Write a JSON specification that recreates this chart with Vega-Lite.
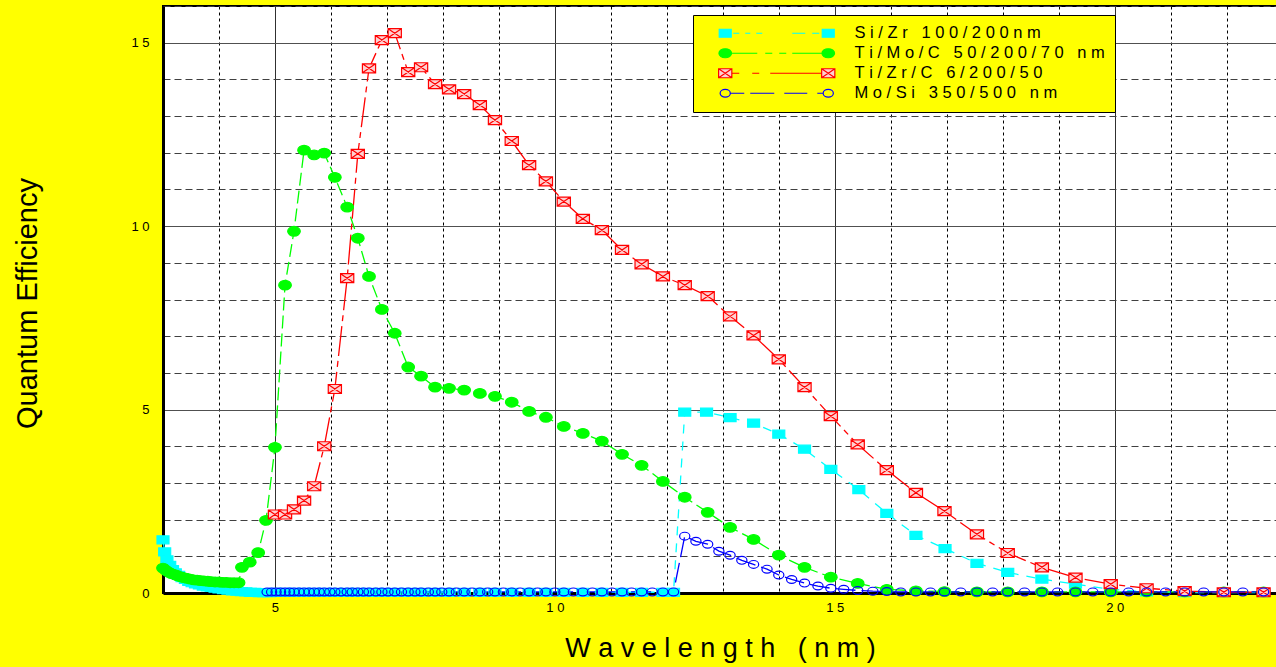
{
  "$schema": "https://vega.github.io/schema/vega-lite/v6.json",
  "autosize": {"type": "none"},
  "padding": {"left": 163, "top": 6, "right": 0, "bottom": 74},
  "width": 1114,
  "height": 587,
  "background": "#FFFF00",
  "config": {
    "view": {"stroke": "#000000", "strokeWidth": 2, "fill": "#FFFFFF"},
    "font": "Liberation Sans"
  },
  "data": {"values": [
    {"series":"Si/Zr 100/200nm","wavelength":3.00,"qe":1.45},
    {"series":"Si/Zr 100/200nm","wavelength":3.03,"qe":1.12},
    {"series":"Si/Zr 100/200nm","wavelength":3.07,"qe":0.90},
    {"series":"Si/Zr 100/200nm","wavelength":3.12,"qe":0.75},
    {"series":"Si/Zr 100/200nm","wavelength":3.17,"qe":0.64},
    {"series":"Si/Zr 100/200nm","wavelength":3.22,"qe":0.55},
    {"series":"Si/Zr 100/200nm","wavelength":3.28,"qe":0.48},
    {"series":"Si/Zr 100/200nm","wavelength":3.34,"qe":0.42},
    {"series":"Si/Zr 100/200nm","wavelength":3.40,"qe":0.37},
    {"series":"Si/Zr 100/200nm","wavelength":3.46,"qe":0.32},
    {"series":"Si/Zr 100/200nm","wavelength":3.52,"qe":0.28},
    {"series":"Si/Zr 100/200nm","wavelength":3.58,"qe":0.25},
    {"series":"Si/Zr 100/200nm","wavelength":3.65,"qe":0.22},
    {"series":"Si/Zr 100/200nm","wavelength":3.72,"qe":0.19},
    {"series":"Si/Zr 100/200nm","wavelength":3.79,"qe":0.17},
    {"series":"Si/Zr 100/200nm","wavelength":3.86,"qe":0.15},
    {"series":"Si/Zr 100/200nm","wavelength":3.93,"qe":0.13},
    {"series":"Si/Zr 100/200nm","wavelength":4.00,"qe":0.11},
    {"series":"Si/Zr 100/200nm","wavelength":4.08,"qe":0.09},
    {"series":"Si/Zr 100/200nm","wavelength":4.16,"qe":0.08},
    {"series":"Si/Zr 100/200nm","wavelength":4.24,"qe":0.06},
    {"series":"Si/Zr 100/200nm","wavelength":4.32,"qe":0.05},
    {"series":"Si/Zr 100/200nm","wavelength":4.40,"qe":0.04},
    {"series":"Si/Zr 100/200nm","wavelength":4.48,"qe":0.03},
    {"series":"Si/Zr 100/200nm","wavelength":4.56,"qe":0.02},
    {"series":"Si/Zr 100/200nm","wavelength":4.64,"qe":0.02},
    {"series":"Si/Zr 100/200nm","wavelength":4.72,"qe":0.01},
    {"series":"Si/Zr 100/200nm","wavelength":4.80,"qe":0.01},
    {"series":"Si/Zr 100/200nm","wavelength":4.90,"qe":0.01},
    {"series":"Si/Zr 100/200nm","wavelength":5.00,"qe":0.02},
    {"series":"Si/Zr 100/200nm","wavelength":5.18,"qe":0.02},
    {"series":"Si/Zr 100/200nm","wavelength":5.34,"qe":0.02},
    {"series":"Si/Zr 100/200nm","wavelength":5.52,"qe":0.02},
    {"series":"Si/Zr 100/200nm","wavelength":5.70,"qe":0.02},
    {"series":"Si/Zr 100/200nm","wavelength":5.88,"qe":0.02},
    {"series":"Si/Zr 100/200nm","wavelength":6.07,"qe":0.02},
    {"series":"Si/Zr 100/200nm","wavelength":6.29,"qe":0.02},
    {"series":"Si/Zr 100/200nm","wavelength":6.48,"qe":0.02},
    {"series":"Si/Zr 100/200nm","wavelength":6.68,"qe":0.02},
    {"series":"Si/Zr 100/200nm","wavelength":6.91,"qe":0.02},
    {"series":"Si/Zr 100/200nm","wavelength":7.14,"qe":0.02},
    {"series":"Si/Zr 100/200nm","wavelength":7.38,"qe":0.02},
    {"series":"Si/Zr 100/200nm","wavelength":7.61,"qe":0.02},
    {"series":"Si/Zr 100/200nm","wavelength":7.86,"qe":0.02},
    {"series":"Si/Zr 100/200nm","wavelength":8.11,"qe":0.02},
    {"series":"Si/Zr 100/200nm","wavelength":8.38,"qe":0.02},
    {"series":"Si/Zr 100/200nm","wavelength":8.66,"qe":0.02},
    {"series":"Si/Zr 100/200nm","wavelength":8.93,"qe":0.02},
    {"series":"Si/Zr 100/200nm","wavelength":9.23,"qe":0.02},
    {"series":"Si/Zr 100/200nm","wavelength":9.54,"qe":0.02},
    {"series":"Si/Zr 100/200nm","wavelength":9.84,"qe":0.02},
    {"series":"Si/Zr 100/200nm","wavelength":10.16,"qe":0.02},
    {"series":"Si/Zr 100/200nm","wavelength":10.50,"qe":0.02},
    {"series":"Si/Zr 100/200nm","wavelength":10.84,"qe":0.02},
    {"series":"Si/Zr 100/200nm","wavelength":11.20,"qe":0.02},
    {"series":"Si/Zr 100/200nm","wavelength":11.55,"qe":0.02},
    {"series":"Si/Zr 100/200nm","wavelength":11.93,"qe":0.02},
    {"series":"Si/Zr 100/200nm","wavelength":12.12,"qe":0.02},
    {"series":"Si/Zr 100/200nm","wavelength":12.32,"qe":4.93},
    {"series":"Si/Zr 100/200nm","wavelength":12.71,"qe":4.93},
    {"series":"Si/Zr 100/200nm","wavelength":13.13,"qe":4.78},
    {"series":"Si/Zr 100/200nm","wavelength":13.55,"qe":4.63},
    {"series":"Si/Zr 100/200nm","wavelength":14.00,"qe":4.33},
    {"series":"Si/Zr 100/200nm","wavelength":14.46,"qe":3.92},
    {"series":"Si/Zr 100/200nm","wavelength":14.93,"qe":3.37},
    {"series":"Si/Zr 100/200nm","wavelength":15.43,"qe":2.82},
    {"series":"Si/Zr 100/200nm","wavelength":15.93,"qe":2.17},
    {"series":"Si/Zr 100/200nm","wavelength":16.45,"qe":1.57},
    {"series":"Si/Zr 100/200nm","wavelength":16.97,"qe":1.21},
    {"series":"Si/Zr 100/200nm","wavelength":17.54,"qe":0.81},
    {"series":"Si/Zr 100/200nm","wavelength":18.09,"qe":0.56},
    {"series":"Si/Zr 100/200nm","wavelength":18.70,"qe":0.38},
    {"series":"Si/Zr 100/200nm","wavelength":19.30,"qe":0.24},
    {"series":"Si/Zr 100/200nm","wavelength":19.93,"qe":0.10},
    {"series":"Si/Zr 100/200nm","wavelength":20.57,"qe":0.03},
    {"series":"Si/Zr 100/200nm","wavelength":21.25,"qe":0.01},
    {"series":"Si/Zr 100/200nm","wavelength":21.95,"qe":0.01},
    {"series":"Si/Zr 100/200nm","wavelength":22.66,"qe":0.01},

    {"series":"Ti/Mo/C 50/200/70 nm","wavelength":3.00,"qe":0.68},
    {"series":"Ti/Mo/C 50/200/70 nm","wavelength":3.05,"qe":0.62},
    {"series":"Ti/Mo/C 50/200/70 nm","wavelength":3.10,"qe":0.57},
    {"series":"Ti/Mo/C 50/200/70 nm","wavelength":3.15,"qe":0.53},
    {"series":"Ti/Mo/C 50/200/70 nm","wavelength":3.21,"qe":0.50},
    {"series":"Ti/Mo/C 50/200/70 nm","wavelength":3.26,"qe":0.47},
    {"series":"Ti/Mo/C 50/200/70 nm","wavelength":3.32,"qe":0.44},
    {"series":"Ti/Mo/C 50/200/70 nm","wavelength":3.37,"qe":0.42},
    {"series":"Ti/Mo/C 50/200/70 nm","wavelength":3.43,"qe":0.40},
    {"series":"Ti/Mo/C 50/200/70 nm","wavelength":3.49,"qe":0.38},
    {"series":"Ti/Mo/C 50/200/70 nm","wavelength":3.55,"qe":0.36},
    {"series":"Ti/Mo/C 50/200/70 nm","wavelength":3.61,"qe":0.35},
    {"series":"Ti/Mo/C 50/200/70 nm","wavelength":3.67,"qe":0.34},
    {"series":"Ti/Mo/C 50/200/70 nm","wavelength":3.73,"qe":0.33},
    {"series":"Ti/Mo/C 50/200/70 nm","wavelength":3.80,"qe":0.32},
    {"series":"Ti/Mo/C 50/200/70 nm","wavelength":3.86,"qe":0.31},
    {"series":"Ti/Mo/C 50/200/70 nm","wavelength":3.93,"qe":0.30},
    {"series":"Ti/Mo/C 50/200/70 nm","wavelength":4.00,"qe":0.30},
    {"series":"Ti/Mo/C 50/200/70 nm","wavelength":4.06,"qe":0.29},
    {"series":"Ti/Mo/C 50/200/70 nm","wavelength":4.13,"qe":0.29},
    {"series":"Ti/Mo/C 50/200/70 nm","wavelength":4.20,"qe":0.28},
    {"series":"Ti/Mo/C 50/200/70 nm","wavelength":4.27,"qe":0.28},
    {"series":"Ti/Mo/C 50/200/70 nm","wavelength":4.35,"qe":0.28},
    {"series":"Ti/Mo/C 50/200/70 nm","wavelength":4.41,"qe":0.70},
    {"series":"Ti/Mo/C 50/200/70 nm","wavelength":4.55,"qe":0.84},
    {"series":"Ti/Mo/C 50/200/70 nm","wavelength":4.70,"qe":1.10},
    {"series":"Ti/Mo/C 50/200/70 nm","wavelength":4.84,"qe":1.98},
    {"series":"Ti/Mo/C 50/200/70 nm","wavelength":5.00,"qe":3.97},
    {"series":"Ti/Mo/C 50/200/70 nm","wavelength":5.18,"qe":8.39},
    {"series":"Ti/Mo/C 50/200/70 nm","wavelength":5.34,"qe":9.86},
    {"series":"Ti/Mo/C 50/200/70 nm","wavelength":5.52,"qe":12.07},
    {"series":"Ti/Mo/C 50/200/70 nm","wavelength":5.70,"qe":11.94},
    {"series":"Ti/Mo/C 50/200/70 nm","wavelength":5.88,"qe":11.99},
    {"series":"Ti/Mo/C 50/200/70 nm","wavelength":6.07,"qe":11.33},
    {"series":"Ti/Mo/C 50/200/70 nm","wavelength":6.29,"qe":10.52},
    {"series":"Ti/Mo/C 50/200/70 nm","wavelength":6.48,"qe":9.67},
    {"series":"Ti/Mo/C 50/200/70 nm","wavelength":6.68,"qe":8.63},
    {"series":"Ti/Mo/C 50/200/70 nm","wavelength":6.91,"qe":7.73},
    {"series":"Ti/Mo/C 50/200/70 nm","wavelength":7.14,"qe":7.08},
    {"series":"Ti/Mo/C 50/200/70 nm","wavelength":7.38,"qe":6.16},
    {"series":"Ti/Mo/C 50/200/70 nm","wavelength":7.61,"qe":5.91},
    {"series":"Ti/Mo/C 50/200/70 nm","wavelength":7.86,"qe":5.61},
    {"series":"Ti/Mo/C 50/200/70 nm","wavelength":8.11,"qe":5.58},
    {"series":"Ti/Mo/C 50/200/70 nm","wavelength":8.38,"qe":5.53},
    {"series":"Ti/Mo/C 50/200/70 nm","wavelength":8.66,"qe":5.44},
    {"series":"Ti/Mo/C 50/200/70 nm","wavelength":8.93,"qe":5.36},
    {"series":"Ti/Mo/C 50/200/70 nm","wavelength":9.23,"qe":5.20},
    {"series":"Ti/Mo/C 50/200/70 nm","wavelength":9.54,"qe":4.95},
    {"series":"Ti/Mo/C 50/200/70 nm","wavelength":9.84,"qe":4.79},
    {"series":"Ti/Mo/C 50/200/70 nm","wavelength":10.16,"qe":4.54},
    {"series":"Ti/Mo/C 50/200/70 nm","wavelength":10.50,"qe":4.35},
    {"series":"Ti/Mo/C 50/200/70 nm","wavelength":10.84,"qe":4.14},
    {"series":"Ti/Mo/C 50/200/70 nm","wavelength":11.20,"qe":3.78},
    {"series":"Ti/Mo/C 50/200/70 nm","wavelength":11.55,"qe":3.48},
    {"series":"Ti/Mo/C 50/200/70 nm","wavelength":11.93,"qe":3.04},
    {"series":"Ti/Mo/C 50/200/70 nm","wavelength":12.32,"qe":2.61},
    {"series":"Ti/Mo/C 50/200/70 nm","wavelength":12.73,"qe":2.20},
    {"series":"Ti/Mo/C 50/200/70 nm","wavelength":13.13,"qe":1.79},
    {"series":"Ti/Mo/C 50/200/70 nm","wavelength":13.55,"qe":1.46},
    {"series":"Ti/Mo/C 50/200/70 nm","wavelength":14.00,"qe":1.03},
    {"series":"Ti/Mo/C 50/200/70 nm","wavelength":14.46,"qe":0.70},
    {"series":"Ti/Mo/C 50/200/70 nm","wavelength":14.93,"qe":0.43},
    {"series":"Ti/Mo/C 50/200/70 nm","wavelength":15.41,"qe":0.26},
    {"series":"Ti/Mo/C 50/200/70 nm","wavelength":15.93,"qe":0.10},
    {"series":"Ti/Mo/C 50/200/70 nm","wavelength":16.45,"qe":0.06},
    {"series":"Ti/Mo/C 50/200/70 nm","wavelength":16.96,"qe":0.04},
    {"series":"Ti/Mo/C 50/200/70 nm","wavelength":17.54,"qe":0.03},
    {"series":"Ti/Mo/C 50/200/70 nm","wavelength":18.09,"qe":0.03},
    {"series":"Ti/Mo/C 50/200/70 nm","wavelength":18.70,"qe":0.03},
    {"series":"Ti/Mo/C 50/200/70 nm","wavelength":19.30,"qe":0.03},
    {"series":"Ti/Mo/C 50/200/70 nm","wavelength":19.93,"qe":0.03},
    {"series":"Ti/Mo/C 50/200/70 nm","wavelength":20.57,"qe":0.03},
    {"series":"Ti/Mo/C 50/200/70 nm","wavelength":21.25,"qe":0.03},
    {"series":"Ti/Mo/C 50/200/70 nm","wavelength":21.95,"qe":0.03},
    {"series":"Ti/Mo/C 50/200/70 nm","wavelength":22.66,"qe":0.03},

    {"series":"Ti/Zr/C 6/200/50","wavelength":5.00,"qe":2.14},
    {"series":"Ti/Zr/C 6/200/50","wavelength":5.18,"qe":2.14},
    {"series":"Ti/Zr/C 6/200/50","wavelength":5.34,"qe":2.28},
    {"series":"Ti/Zr/C 6/200/50","wavelength":5.52,"qe":2.52},
    {"series":"Ti/Zr/C 6/200/50","wavelength":5.70,"qe":2.91},
    {"series":"Ti/Zr/C 6/200/50","wavelength":5.88,"qe":4.00},
    {"series":"Ti/Zr/C 6/200/50","wavelength":6.07,"qe":5.56},
    {"series":"Ti/Zr/C 6/200/50","wavelength":6.29,"qe":8.58},
    {"series":"Ti/Zr/C 6/200/50","wavelength":6.48,"qe":11.97},
    {"series":"Ti/Zr/C 6/200/50","wavelength":6.68,"qe":14.30},
    {"series":"Ti/Zr/C 6/200/50","wavelength":6.91,"qe":15.07},
    {"series":"Ti/Zr/C 6/200/50","wavelength":7.14,"qe":15.26},
    {"series":"Ti/Zr/C 6/200/50","wavelength":7.38,"qe":14.20},
    {"series":"Ti/Zr/C 6/200/50","wavelength":7.61,"qe":14.33},
    {"series":"Ti/Zr/C 6/200/50","wavelength":7.86,"qe":13.87},
    {"series":"Ti/Zr/C 6/200/50","wavelength":8.11,"qe":13.73},
    {"series":"Ti/Zr/C 6/200/50","wavelength":8.38,"qe":13.60},
    {"series":"Ti/Zr/C 6/200/50","wavelength":8.66,"qe":13.30},
    {"series":"Ti/Zr/C 6/200/50","wavelength":8.93,"qe":12.89},
    {"series":"Ti/Zr/C 6/200/50","wavelength":9.23,"qe":12.32},
    {"series":"Ti/Zr/C 6/200/50","wavelength":9.54,"qe":11.66},
    {"series":"Ti/Zr/C 6/200/50","wavelength":9.84,"qe":11.22},
    {"series":"Ti/Zr/C 6/200/50","wavelength":10.16,"qe":10.67},
    {"series":"Ti/Zr/C 6/200/50","wavelength":10.50,"qe":10.20},
    {"series":"Ti/Zr/C 6/200/50","wavelength":10.84,"qe":9.89},
    {"series":"Ti/Zr/C 6/200/50","wavelength":11.20,"qe":9.35},
    {"series":"Ti/Zr/C 6/200/50","wavelength":11.55,"qe":8.96},
    {"series":"Ti/Zr/C 6/200/50","wavelength":11.93,"qe":8.63},
    {"series":"Ti/Zr/C 6/200/50","wavelength":12.32,"qe":8.39},
    {"series":"Ti/Zr/C 6/200/50","wavelength":12.73,"qe":8.09},
    {"series":"Ti/Zr/C 6/200/50","wavelength":13.13,"qe":7.54},
    {"series":"Ti/Zr/C 6/200/50","wavelength":13.55,"qe":7.02},
    {"series":"Ti/Zr/C 6/200/50","wavelength":14.00,"qe":6.37},
    {"series":"Ti/Zr/C 6/200/50","wavelength":14.46,"qe":5.61},
    {"series":"Ti/Zr/C 6/200/50","wavelength":14.93,"qe":4.82},
    {"series":"Ti/Zr/C 6/200/50","wavelength":15.41,"qe":4.05},
    {"series":"Ti/Zr/C 6/200/50","wavelength":15.93,"qe":3.35},
    {"series":"Ti/Zr/C 6/200/50","wavelength":16.45,"qe":2.73},
    {"series":"Ti/Zr/C 6/200/50","wavelength":16.96,"qe":2.23},
    {"series":"Ti/Zr/C 6/200/50","wavelength":17.54,"qe":1.60},
    {"series":"Ti/Zr/C 6/200/50","wavelength":18.09,"qe":1.09},
    {"series":"Ti/Zr/C 6/200/50","wavelength":18.70,"qe":0.70},
    {"series":"Ti/Zr/C 6/200/50","wavelength":19.30,"qe":0.42},
    {"series":"Ti/Zr/C 6/200/50","wavelength":19.93,"qe":0.24},
    {"series":"Ti/Zr/C 6/200/50","wavelength":20.57,"qe":0.13},
    {"series":"Ti/Zr/C 6/200/50","wavelength":21.25,"qe":0.05},
    {"series":"Ti/Zr/C 6/200/50","wavelength":21.95,"qe":0.02},
    {"series":"Ti/Zr/C 6/200/50","wavelength":22.66,"qe":0.02},

    {"series":"Mo/Si 350/500 nm","wavelength":4.86,"qe":0.03},
    {"series":"Mo/Si 350/500 nm","wavelength":4.94,"qe":0.03},
    {"series":"Mo/Si 350/500 nm","wavelength":5.02,"qe":0.03},
    {"series":"Mo/Si 350/500 nm","wavelength":5.10,"qe":0.03},
    {"series":"Mo/Si 350/500 nm","wavelength":5.18,"qe":0.03},
    {"series":"Mo/Si 350/500 nm","wavelength":5.26,"qe":0.03},
    {"series":"Mo/Si 350/500 nm","wavelength":5.34,"qe":0.03},
    {"series":"Mo/Si 350/500 nm","wavelength":5.43,"qe":0.03},
    {"series":"Mo/Si 350/500 nm","wavelength":5.52,"qe":0.03},
    {"series":"Mo/Si 350/500 nm","wavelength":5.61,"qe":0.03},
    {"series":"Mo/Si 350/500 nm","wavelength":5.70,"qe":0.03},
    {"series":"Mo/Si 350/500 nm","wavelength":5.79,"qe":0.03},
    {"series":"Mo/Si 350/500 nm","wavelength":5.88,"qe":0.03},
    {"series":"Mo/Si 350/500 nm","wavelength":5.98,"qe":0.03},
    {"series":"Mo/Si 350/500 nm","wavelength":6.07,"qe":0.03},
    {"series":"Mo/Si 350/500 nm","wavelength":6.18,"qe":0.03},
    {"series":"Mo/Si 350/500 nm","wavelength":6.29,"qe":0.03},
    {"series":"Mo/Si 350/500 nm","wavelength":6.38,"qe":0.03},
    {"series":"Mo/Si 350/500 nm","wavelength":6.48,"qe":0.03},
    {"series":"Mo/Si 350/500 nm","wavelength":6.58,"qe":0.03},
    {"series":"Mo/Si 350/500 nm","wavelength":6.68,"qe":0.03},
    {"series":"Mo/Si 350/500 nm","wavelength":6.80,"qe":0.03},
    {"series":"Mo/Si 350/500 nm","wavelength":6.91,"qe":0.03},
    {"series":"Mo/Si 350/500 nm","wavelength":7.02,"qe":0.03},
    {"series":"Mo/Si 350/500 nm","wavelength":7.14,"qe":0.03},
    {"series":"Mo/Si 350/500 nm","wavelength":7.26,"qe":0.03},
    {"series":"Mo/Si 350/500 nm","wavelength":7.38,"qe":0.03},
    {"series":"Mo/Si 350/500 nm","wavelength":7.50,"qe":0.03},
    {"series":"Mo/Si 350/500 nm","wavelength":7.61,"qe":0.03},
    {"series":"Mo/Si 350/500 nm","wavelength":7.74,"qe":0.03},
    {"series":"Mo/Si 350/500 nm","wavelength":7.86,"qe":0.03},
    {"series":"Mo/Si 350/500 nm","wavelength":7.98,"qe":0.03},
    {"series":"Mo/Si 350/500 nm","wavelength":8.11,"qe":0.03},
    {"series":"Mo/Si 350/500 nm","wavelength":8.24,"qe":0.03},
    {"series":"Mo/Si 350/500 nm","wavelength":8.38,"qe":0.03},
    {"series":"Mo/Si 350/500 nm","wavelength":8.52,"qe":0.03},
    {"series":"Mo/Si 350/500 nm","wavelength":8.66,"qe":0.03},
    {"series":"Mo/Si 350/500 nm","wavelength":8.80,"qe":0.03},
    {"series":"Mo/Si 350/500 nm","wavelength":8.93,"qe":0.03},
    {"series":"Mo/Si 350/500 nm","wavelength":9.08,"qe":0.03},
    {"series":"Mo/Si 350/500 nm","wavelength":9.23,"qe":0.03},
    {"series":"Mo/Si 350/500 nm","wavelength":9.38,"qe":0.03},
    {"series":"Mo/Si 350/500 nm","wavelength":9.54,"qe":0.03},
    {"series":"Mo/Si 350/500 nm","wavelength":9.69,"qe":0.03},
    {"series":"Mo/Si 350/500 nm","wavelength":9.84,"qe":0.03},
    {"series":"Mo/Si 350/500 nm","wavelength":10.00,"qe":0.03},
    {"series":"Mo/Si 350/500 nm","wavelength":10.16,"qe":0.03},
    {"series":"Mo/Si 350/500 nm","wavelength":10.33,"qe":0.03},
    {"series":"Mo/Si 350/500 nm","wavelength":10.50,"qe":0.03},
    {"series":"Mo/Si 350/500 nm","wavelength":10.67,"qe":0.03},
    {"series":"Mo/Si 350/500 nm","wavelength":10.84,"qe":0.03},
    {"series":"Mo/Si 350/500 nm","wavelength":11.02,"qe":0.03},
    {"series":"Mo/Si 350/500 nm","wavelength":11.20,"qe":0.03},
    {"series":"Mo/Si 350/500 nm","wavelength":11.37,"qe":0.03},
    {"series":"Mo/Si 350/500 nm","wavelength":11.55,"qe":0.03},
    {"series":"Mo/Si 350/500 nm","wavelength":11.74,"qe":0.03},
    {"series":"Mo/Si 350/500 nm","wavelength":11.93,"qe":0.03},
    {"series":"Mo/Si 350/500 nm","wavelength":12.12,"qe":0.03},
    {"series":"Mo/Si 350/500 nm","wavelength":12.32,"qe":1.55},
    {"series":"Mo/Si 350/500 nm","wavelength":12.52,"qe":1.41},
    {"series":"Mo/Si 350/500 nm","wavelength":12.73,"qe":1.33},
    {"series":"Mo/Si 350/500 nm","wavelength":12.93,"qe":1.14},
    {"series":"Mo/Si 350/500 nm","wavelength":13.13,"qe":1.03},
    {"series":"Mo/Si 350/500 nm","wavelength":13.34,"qe":0.89},
    {"series":"Mo/Si 350/500 nm","wavelength":13.55,"qe":0.78},
    {"series":"Mo/Si 350/500 nm","wavelength":13.79,"qe":0.65},
    {"series":"Mo/Si 350/500 nm","wavelength":14.00,"qe":0.49},
    {"series":"Mo/Si 350/500 nm","wavelength":14.23,"qe":0.37},
    {"series":"Mo/Si 350/500 nm","wavelength":14.46,"qe":0.27},
    {"series":"Mo/Si 350/500 nm","wavelength":14.70,"qe":0.19},
    {"series":"Mo/Si 350/500 nm","wavelength":14.93,"qe":0.13},
    {"series":"Mo/Si 350/500 nm","wavelength":15.16,"qe":0.10},
    {"series":"Mo/Si 350/500 nm","wavelength":15.41,"qe":0.07},
    {"series":"Mo/Si 350/500 nm","wavelength":15.68,"qe":0.05},
    {"series":"Mo/Si 350/500 nm","wavelength":15.93,"qe":0.04},
    {"series":"Mo/Si 350/500 nm","wavelength":16.18,"qe":0.03},
    {"series":"Mo/Si 350/500 nm","wavelength":16.45,"qe":0.03},
    {"series":"Mo/Si 350/500 nm","wavelength":16.71,"qe":0.03},
    {"series":"Mo/Si 350/500 nm","wavelength":16.96,"qe":0.03},
    {"series":"Mo/Si 350/500 nm","wavelength":17.25,"qe":0.03},
    {"series":"Mo/Si 350/500 nm","wavelength":17.54,"qe":0.03},
    {"series":"Mo/Si 350/500 nm","wavelength":17.82,"qe":0.03},
    {"series":"Mo/Si 350/500 nm","wavelength":18.09,"qe":0.03},
    {"series":"Mo/Si 350/500 nm","wavelength":18.39,"qe":0.03},
    {"series":"Mo/Si 350/500 nm","wavelength":18.70,"qe":0.03},
    {"series":"Mo/Si 350/500 nm","wavelength":18.98,"qe":0.03},
    {"series":"Mo/Si 350/500 nm","wavelength":19.30,"qe":0.03},
    {"series":"Mo/Si 350/500 nm","wavelength":19.61,"qe":0.03},
    {"series":"Mo/Si 350/500 nm","wavelength":19.93,"qe":0.03},
    {"series":"Mo/Si 350/500 nm","wavelength":20.25,"qe":0.03},
    {"series":"Mo/Si 350/500 nm","wavelength":20.57,"qe":0.03},
    {"series":"Mo/Si 350/500 nm","wavelength":20.91,"qe":0.03},
    {"series":"Mo/Si 350/500 nm","wavelength":21.25,"qe":0.03},
    {"series":"Mo/Si 350/500 nm","wavelength":21.59,"qe":0.03},
    {"series":"Mo/Si 350/500 nm","wavelength":21.95,"qe":0.03},
    {"series":"Mo/Si 350/500 nm","wavelength":22.29,"qe":0.03},
    {"series":"Mo/Si 350/500 nm","wavelength":22.66,"qe":0.03}
  ]},
  "encoding": {
    "x": {
      "field": "wavelength", "type": "quantitative",
      "scale": {"domain": [3, 22.9], "nice": false, "zero": false},
      "axis": {
        "values": [4,5,6,7,8,9,10,11,12,13,14,15,16,17,18,19,20,21,22],
        "labelExpr": "datum.value % 5 === 0 ? join(split(datum.label, ''), ' ') : ''",
        "labelOverlap": false, "labelFlush": false,
        "grid": true,
        "gridDash": {"condition": {"test": "datum.value % 5 === 0", "value": []}, "value": [3, 3]},
        "gridColor": {"condition": {"test": "datum.value % 5 === 0", "value": "#303030"}, "value": "#000000"},
        "gridWidth": 1, "gridOpacity": 1,
        "ticks": false,
        "domainColor": "#000000", "domainWidth": 3,
        "labelFont": "Liberation Sans", "labelFontSize": 13, "labelColor": "#000000", "labelPadding": 8,
        "encode": {"labels": {"update": {"dx": {"signal": "datum.value === 10 ? -7 : datum.value === 15 ? -15 : datum.value === 20 ? -26 : 0"}}}},
        "title": "W a v e l e n g t h \u00a0 ( n m )",
        "titleFont": "Liberation Sans", "titleFontSize": 27, "titleFontWeight": "normal", "titleColor": "#000000",
        "titleX": 557, "titleY": 55, "titleAlign": "center", "titleBaseline": "middle"
      }
    },
    "y": {
      "field": "qe", "type": "quantitative",
      "scale": {"domain": [0, 16], "nice": false, "zero": true},
      "axis": {
        "values": [0,1,2,3,4,5,6,7,8,9,10,11,12,13,14,15,16],
        "labelExpr": "datum.value % 5 === 0 ? join(split(datum.label, ''), ' ') : ''",
        "labelOverlap": false, "labelFlush": false,
        "grid": true,
        "gridDash": {"condition": {"test": "datum.value % 5 === 0", "value": []}, "value": [7, 4]},
        "gridColor": {"condition": {"test": "datum.value % 5 === 0", "value": "#505050"}, "value": "#404040"},
        "gridWidth": 1, "gridOpacity": 1,
        "ticks": false,
        "domainColor": "#000000", "domainWidth": 3,
        "labelFont": "Liberation Sans", "labelFontSize": 13, "labelColor": "#000000", "labelPadding": 14,
        "title": "Quantum Efficiency",
        "titleFont": "Liberation Sans", "titleFontSize": 29, "titleFontWeight": "normal", "titleColor": "#000000",
        "titleX": -136, "titleY": 297, "titleAngle": -90, "titleAlign": "center", "titleBaseline": "middle"
      }
    }
  },
  "layer": [
    {
      "transform": [{"filter": {"field": "series", "equal": "Si/Zr 100/200nm"}}],
      "mark": {"type": "line", "stroke": "#00FFFF", "strokeDash": [9, 8], "strokeWidth": 1.3, "opacity": 1}
    },
    {
      "transform": [{"filter": {"field": "series", "equal": "Ti/Mo/C 50/200/70 nm"}}],
      "mark": {"type": "line", "stroke": "#00FF00", "strokeDash": [13, 5], "strokeWidth": 1.3, "opacity": 1}
    },
    {
      "transform": [{"filter": {"field": "series", "equal": "Ti/Zr/C 6/200/50"}}],
      "mark": {"type": "line", "stroke": "#FF0000", "strokeDash": [30, 5, 6, 5], "strokeWidth": 1.3, "opacity": 1}
    },
    {
      "transform": [{"filter": {"field": "series", "equal": "Mo/Si 350/500 nm"}}],
      "mark": {"type": "line", "stroke": "#0000FF", "strokeDash": [20, 6], "strokeWidth": 1.3, "opacity": 1}
    },
    {
      "transform": [{"filter": {"field": "series", "equal": "Si/Zr 100/200nm"}}],
      "mark": {"type": "point", "shape": "M-1,-0.67H1V0.67H-1Z", "size": 144, "filled": true, "fill": "#00FFFF", "stroke": "#00FFFF", "strokeWidth": 1.2, "opacity": 1}
    },
    {
      "transform": [{"filter": {"field": "series", "equal": "Ti/Mo/C 50/200/70 nm"}}],
      "mark": {"type": "point", "shape": "M1.05,0C1.05,0.442 0.58,0.8 0,0.8C-0.58,0.8 -1.05,0.442 -1.05,0C-1.05,-0.442 -0.58,-0.8 0,-0.8C0.58,-0.8 1.05,-0.442 1.05,0Z", "size": 144, "filled": true, "fill": "#00FF00", "stroke": "#00FF00", "strokeWidth": 1.2, "opacity": 1}
    },
    {
      "transform": [{"filter": {"field": "series", "equal": "Ti/Zr/C 6/200/50"}}],
      "mark": {"type": "point", "shape": "M-1.1,-0.75H1.1V0.75H-1.1Z M-1.1,-0.75L1.1,0.75 M-1.1,0.75L1.1,-0.75", "size": 144, "filled": true, "fill": "#FFD0D0", "stroke": "#FF0000", "strokeWidth": 1.2, "opacity": 1}
    },
    {
      "transform": [{"filter": {"field": "series", "equal": "Mo/Si 350/500 nm"}}],
      "mark": {"type": "point", "shape": "M0.85,0C0.85,0.359 0.469,0.65 0,0.65C-0.469,0.65 -0.85,0.359 -0.85,0C-0.85,-0.359 -0.469,-0.65 0,-0.65C0.469,-0.65 0.85,-0.359 0.85,0Z", "size": 144, "filled": true, "fill": "transparent", "stroke": "#0000FF", "strokeWidth": 1.2, "opacity": 1}
    },
    {
      "transform": [{"filter": "false"}],
      "mark": {"type": "point", "size": 144, "strokeWidth": 1.2, "opacity": 1, "filled": true},
      "encoding": {
        "shape": {
          "field": "series", "type": "nominal",
          "scale": {
            "domain": ["Si/Zr 100/200nm", "Ti/Mo/C 50/200/70 nm", "Ti/Zr/C 6/200/50", "Mo/Si 350/500 nm"],
            "range": [
              "M1.33,-0.67H3.33V0.67H1.33Z M18.5,-0.67H20.5V0.67H18.5Z M3.67,0H4.67 M5.67,0H6.5 M7.5,0H8.5 M13.5,0H15.67 M16.83,0H18",
              "M3.38,0C3.38,0.414 2.91,0.75 2.33,0.75C1.75,0.75 1.28,0.414 1.28,0C1.28,-0.414 1.75,-0.75 2.33,-0.75C2.91,-0.75 3.38,-0.414 3.38,0Z M20.55,0C20.55,0.414 20.08,0.75 19.5,0.75C18.92,0.75 18.45,0.414 18.45,0C18.45,-0.414 18.92,-0.75 19.5,-0.75C20.08,-0.75 20.55,-0.414 20.55,0Z M3.4,0H7.67 M9,0H10.17 M11.33,0H12.5 M13.5,0H18.45",
              "M1.23,-0.75H3.43V0.75H1.23Z M1.23,-0.75L3.43,0.75 M1.23,0.75L3.43,-0.75 M18.4,-0.75H20.6V0.75H18.4Z M18.4,-0.75L20.6,0.75 M18.4,0.75L20.6,-0.75 M3.43,0H4.67 M6.83,0H8 M9.83,0H18.4",
              "M3.18,0C3.18,0.359 2.8,0.65 2.33,0.65C1.86,0.65 1.48,0.359 1.48,0C1.48,-0.359 1.86,-0.65 2.33,-0.65C2.8,-0.65 3.18,-0.359 3.18,0Z M20.35,0C20.35,0.359 19.97,0.65 19.5,0.65C19.03,0.65 18.65,0.359 18.65,0C18.65,-0.359 19.03,-0.65 19.5,-0.65C19.97,-0.65 20.35,-0.359 20.35,0Z M3.18,0H5.5 M6.5,0H10.5 M12.17,0H16 M17.67,0H18.65"
            ]
          },
          "legend": {
            "orient": "none", "legendX": 530, "legendY": 9,
            "title": null, "padding": 10, "rowPadding": 3,
            "fillColor": "#FFFF00", "strokeColor": "#000000",
            "symbolSize": 144, "symbolStrokeWidth": 1.2, "symbolOpacity": 1, "labelOffset": 135,
            "labelFont": "Liberation Sans", "labelFontSize": 16.5, "labelColor": "#000000",
            "labelLimit": 400,
            "labelExpr": "join(split(datum.label, ''), '\u00a0') + '\u00a0\u00a0\u00a0\u00a0\u00a0\u00a0'"
          }
        },
        "fill": {
          "field": "series", "type": "nominal",
          "scale": {
            "domain": ["Si/Zr 100/200nm", "Ti/Mo/C 50/200/70 nm", "Ti/Zr/C 6/200/50", "Mo/Si 350/500 nm"],
            "range": ["#00FFFF", "#00FF00", "#FFD0D0", "transparent"]
          },
          "legend": {
            "orient": "none", "legendX": 530, "legendY": 9,
            "title": null, "padding": 10, "rowPadding": 3,
            "fillColor": "#FFFF00", "strokeColor": "#000000",
            "symbolSize": 144, "symbolStrokeWidth": 1.2, "symbolOpacity": 1, "labelOffset": 135,
            "labelFont": "Liberation Sans", "labelFontSize": 16.5, "labelColor": "#000000",
            "labelLimit": 400,
            "labelExpr": "join(split(datum.label, ''), '\u00a0') + '\u00a0\u00a0\u00a0\u00a0\u00a0\u00a0'"
          }
        },
        "stroke": {
          "field": "series", "type": "nominal",
          "scale": {
            "domain": ["Si/Zr 100/200nm", "Ti/Mo/C 50/200/70 nm", "Ti/Zr/C 6/200/50", "Mo/Si 350/500 nm"],
            "range": ["#00FFFF", "#00FF00", "#FF0000", "#0000FF"]
          },
          "legend": {
            "orient": "none", "legendX": 530, "legendY": 9,
            "title": null, "padding": 10, "rowPadding": 3,
            "fillColor": "#FFFF00", "strokeColor": "#000000",
            "symbolSize": 144, "symbolStrokeWidth": 1.2, "symbolOpacity": 1, "labelOffset": 135,
            "labelFont": "Liberation Sans", "labelFontSize": 16.5, "labelColor": "#000000",
            "labelLimit": 400,
            "labelExpr": "join(split(datum.label, ''), '\u00a0') + '\u00a0\u00a0\u00a0\u00a0\u00a0\u00a0'"
          }
        }
      }
    }
  ]
}
